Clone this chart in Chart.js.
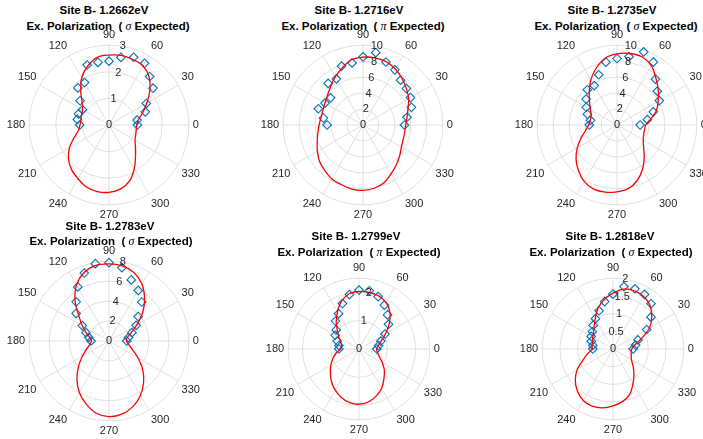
<!DOCTYPE html>
<html>
<head>
<meta charset="utf-8">
<script src="https://cdn.jsdelivr.net/npm/chart.js@4.4.1/dist/chart.umd.min.js"></script>
<style>
  html, body { margin: 0; padding: 0; background: #fff; }
  body { width: 703px; height: 439px; overflow: hidden; position: relative;
         font-family: "Liberation Sans", Arial, Helvetica, sans-serif; }
  canvas { position: absolute; }
  .t { position: absolute; transform: translateX(-50%); white-space: nowrap;
       font-weight: bold; font-size: 11.5px; line-height: 15.5px; color: #000; }
  .t i { font-weight: normal; font-family: "Liberation Serif", "Times New Roman", serif; font-size: 12px; }
</style>
</head>
<body>
<script>
// angle of each fit sample (deg) and of each measured point
var angles = [0,10,20,30,40,50,60,70,80,90,100,110,120,130,140,150,160,170,
              180,190,200,210,220,230,240,250,260,270,280,290,300,310,320,330,340,350];
var measAngles = [0,10,20,30,40,50,60,70,80,90,100,110,120,130,140,150,160,170,180];

var energies = ['1.2662', '1.2716', '1.2735', '1.2783', '1.2799', '1.2818'];
var expected = ['\u03c3', '\u03c0', '\u03c3', '\u03c3', '\u03c0', '\u03c3'];
var rMax  = [3, 10, 10, 8, 2.5, 2];
var rStep = [1, 2, 2, 2, 1, 0.5];
var rLabelMax = [3, 10, 10, 8, 2, 2];

// fitted curves (red), 0..350 deg
var fit1 = [1.05,1.12,1.35,1.64,2.0,2.35,2.56,2.62,2.66,2.63,2.58,2.35,2.05,1.65,1.32,1.15,1.1,1.07,
            1.09,1.17,1.4,1.72,1.99,2.19,2.33,2.48,2.54,2.53,2.45,2.25,1.9,1.55,1.3,1.13,1.07,1.04];
var fit2 = [5.35,5.6,6.0,6.6,7.1,7.6,8.1,8.45,8.55,8.5,8.3,7.6,6.95,6.3,5.8,5.5,5.35,5.35,
            5.5,5.75,6.1,6.6,7.1,7.45,7.8,7.95,8.15,8.2,8.05,7.7,7.05,6.5,6.0,5.55,5.35,5.3];
var fit3 = [3.6,4.3,5.25,5.95,6.75,7.6,8.6,9.1,9.1,8.9,8.5,7.6,6.55,5.4,4.5,3.85,3.45,3.4,
            3.55,4.0,4.8,5.75,6.7,7.5,8.2,8.55,8.55,8.37,8.1,7.4,6.4,5.3,4.35,3.8,3.55,3.5];
var fit4 = [1.75,1.85,2.35,3.2,4.4,5.55,6.6,7.3,7.65,7.74,7.7,7.3,6.5,5.3,3.95,3.1,2.45,1.95,
            1.75,1.95,2.4,3.1,4.0,5.0,5.95,6.7,7.35,7.58,7.45,7.0,6.3,5.4,4.4,3.35,2.5,2.0];
var fit5 = [0.62,0.7,0.84,1.08,1.4,1.7,1.9,2.0,2.03,2.03,1.98,1.8,1.52,1.25,1.0,0.82,0.68,0.63,
            0.65,0.82,0.98,1.15,1.32,1.51,1.68,1.82,1.92,1.95,1.9,1.77,1.6,1.37,1.17,0.95,0.76,0.66];
var fit6 = [0.53,0.62,0.85,1.19,1.43,1.62,1.72,1.75,1.72,1.58,1.42,1.23,1.0,0.83,0.72,0.66,0.61,0.6,
            0.59,0.72,0.9,1.17,1.39,1.56,1.68,1.72,1.69,1.61,1.51,1.37,1.13,0.92,0.74,0.6,0.55,0.52];

// measured points (blue diamonds), 0..180 deg
var meas1 = [1.07,1.07,1.45,1.62,2.16,2.38,2.68,2.71,2.58,2.4,2.39,2.4,1.84,1.82,1.42,1.15,1.22,1.21,1.1];
var meas2 = [5.2,5.6,6.46,6.87,7.1,7.33,7.98,8.4,9.2,8.54,7.9,7.86,6.68,6.8,5.3,5.5,5.95,5.04,4.5];
var meas3 = [2.9,3.86,4.83,6.12,6.6,7.5,9.1,9.76,8.7,8.33,8.0,6.7,5.7,5.77,5.05,4.44,3.95,3.37,3.46];
var meas4 = [1.78,1.98,2.45,3.14,3.82,5.1,5.86,6.52,7.47,7.85,7.87,7.25,6.26,5.13,4.3,3.09,2.45,2.06,1.8];
var meas5 = [0.63,0.7,0.82,1.06,1.36,1.57,1.79,1.97,2.09,2.08,1.95,1.71,1.44,1.29,1.05,0.97,0.82,0.72,0.71];
var meas6 = [0.57,0.65,0.75,1.1,1.4,1.67,1.78,1.81,1.79,1.55,1.36,1.15,0.99,0.87,0.76,0.71,0.65,0.58,0.57];

var fits = [fit1, fit2, fit3, fit4, fit5, fit6];
var meas = [meas1, meas2, meas3, meas4, meas5, meas6];

// layout: centre x, centre y, radius, title top, line1 centre x, line2 centre x
var boxes = [
  [109, 125, 79.5, 3,   104, 108],
  [363, 125, 80,   3,   359, 363],
  [617, 125, 80,   3,   612, 616],
  [109, 341, 79.5, 218.5, 110, 111],
  [359, 349, 70.7, 229, 356, 359],
  [613, 349, 70.7, 229, 610, 611]
];

var FONT = '"Liberation Sans", Arial, Helvetica, sans-serif';
var GRID = '#dfdfdf';
var TXT = '#262626';

// radar slots go clockwise from the top: slot i sits at 90 - 10 i degrees
var slotAngles = angles.map(function (a, i) { return (450 - angles[i]) % 360; });

// r tick labels drawn along the 80 degree ray, like matlab
var rTickPlugin = {
  id: 'rTicks',
  afterDatasetsDraw: function (chart) {
    var s = chart.scales.r;
    var ctx = chart.ctx;
    var lim = chart.options.plugins.rTicks.max;
    var a = 80 * Math.PI / 180;
    ctx.save();
    ctx.font = '11px ' + FONT;
    ctx.fillStyle = TXT;
    ctx.textAlign = 'center';
    ctx.textBaseline = 'middle';
    s.ticks.forEach(function (t) {
      if (t.value > lim + 1e-9) return;
      var d = s.getDistanceFromCenterForValue(t.value);
      ctx.fillText(String(+t.value.toFixed(2)), s.xCenter + d * Math.cos(a), s.yCenter - d * Math.sin(a));
    });
    ctx.restore();
  }
};

function drawPlot(k) {
  var b = boxes[k];
  var H = 2 * Math.round(b[2] + 17.2);
  var W = H + 80;

  var t = document.createElement('div');
  t.className = 't';
  t.style.left = b[4] + 'px';
  t.style.top = b[3] + 'px';
  t.textContent = 'Site B- ' + energies[k] + 'eV';
  document.body.appendChild(t);

  var t2 = document.createElement('div');
  t2.className = 't';
  t2.style.left = b[5] + 'px';
  t2.style.top = (b[3] + 15.5) + 'px';
  t2.innerHTML = 'Ex. Polarization&nbsp; ( <i>' + expected[k] + '</i> Expected)';
  document.body.appendChild(t2);

  var c = document.createElement('canvas');
  c.width = W; c.height = H;
  c.style.left = (b[0] - W / 2) + 'px';
  c.style.top = (b[1] - H / 2) + 'px';
  document.body.appendChild(c);

  var fitData = slotAngles.map(function (a) { return fits[k][angles.indexOf(a)]; });
  var measData = slotAngles.map(function (a) {
    var j = measAngles.indexOf(a);
    return j < 0 ? null : meas[k][j];
  });

  new Chart(c.getContext('2d'), {
    type: 'radar',
    data: {
      labels: slotAngles,
      datasets: [{
        label: 'Fit',
        data: fitData,
        borderColor: '#ff0000',
        borderWidth: 1.3,
        backgroundColor: 'transparent',
        fill: false,
        pointRadius: 0,
        tension: 0.35
      }, {
        label: 'Data',
        data: measData,
        showLine: false,
        fill: false,
        pointStyle: 'rectRot',
        pointRadius: 4.3,
        pointBorderWidth: 1.1,
        pointBorderColor: '#0072bd',
        pointBackgroundColor: 'transparent'
      }]
    },
    options: {
      responsive: false,
      animation: false,
      events: [],
      plugins: { legend: { display: false }, tooltip: { enabled: false },
                 rTicks: { max: rLabelMax[k] } },
      scales: {
        r: {
          min: 0, max: rMax[k],
          startAngle: 0,
          ticks: { stepSize: rStep[k], display: false },
          grid: { circular: true, color: GRID, lineWidth: 1 },
          angleLines: {
            color: GRID,
            lineWidth: function (ctx) { return slotAngles[ctx.index] % 30 === 0 ? 1 : 0; }
          },
          pointLabels: {
            font: { size: 11, family: FONT },
            color: TXT,
            padding: 4,
            callback: function (label) { return label % 30 === 0 ? String(label) : ''; }
          }
        }
      }
    },
    plugins: [rTickPlugin]
  });
}

for (var k = 0; k < 6; k++) drawPlot(k);
</script>
</body>
</html>
